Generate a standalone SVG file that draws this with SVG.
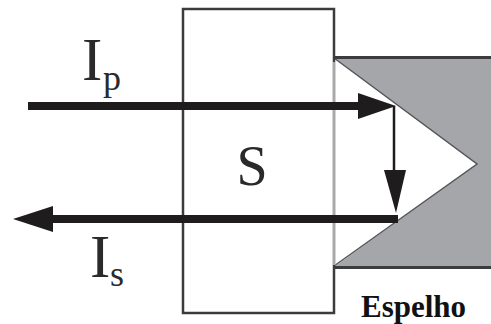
<svg xmlns="http://www.w3.org/2000/svg" width="491" height="324" viewBox="0 0 491 324">
<style>
.t{font-family:"Liberation Serif","Times New Roman",serif;fill:#2a2a2a}
.c{stroke:#1f1c1d;fill:none}
.h{fill:#1f1c1d}
</style>
<rect width="491" height="324" fill="#fff"/>
<g id="mirror">
<path d="M334 58H491V267H334L477 164Z" fill="#a5a6aa"/>
<path d="M334 58L477 164L334 266" fill="none" stroke="#55565a" stroke-width="1.5"/>
<path d="M334 57.500H491M334 267.500H491" fill="none" stroke="#3c3c3e" stroke-width="3"/>
<text x="361" y="317" font-size="31" font-weight="700" class="t" style="fill:#111">Espelho</text>
</g>
<g id="box-s">
<path d="M334 62V265" fill="none" stroke="#a9a9a9" stroke-width="3"/>
<path d="M334 62V9H183V313H334V265" fill="none" stroke="#3c3c3c" stroke-width="2.500"/>
<text x="252" y="185" font-size="56" text-anchor="middle" class="t">S</text>
</g>
<g id="connectors">
<path class="c" d="M28 106H370" stroke-width="8"/>
<path class="h" d="M358 93L396 106L358 119Z"/>
<path class="c" d="M394 106V178" stroke-width="2.500"/>
<path class="h" d="M384 170H406L396 213Z"/>
<path class="c" d="M398 219H50" stroke-width="8"/>
<path class="h" d="M13 219L53 206V232Z"/>
</g>
<g id="label-ip">
<text x="82" y="80" font-size="61" class="t">I</text>
<text x="103" y="90" font-size="36" class="t">p</text>
</g>
<g id="label-is">
<text x="90" y="277" font-size="61" class="t">I</text>
<text x="110" y="286" font-size="36" class="t">s</text>
</g>
</svg>
